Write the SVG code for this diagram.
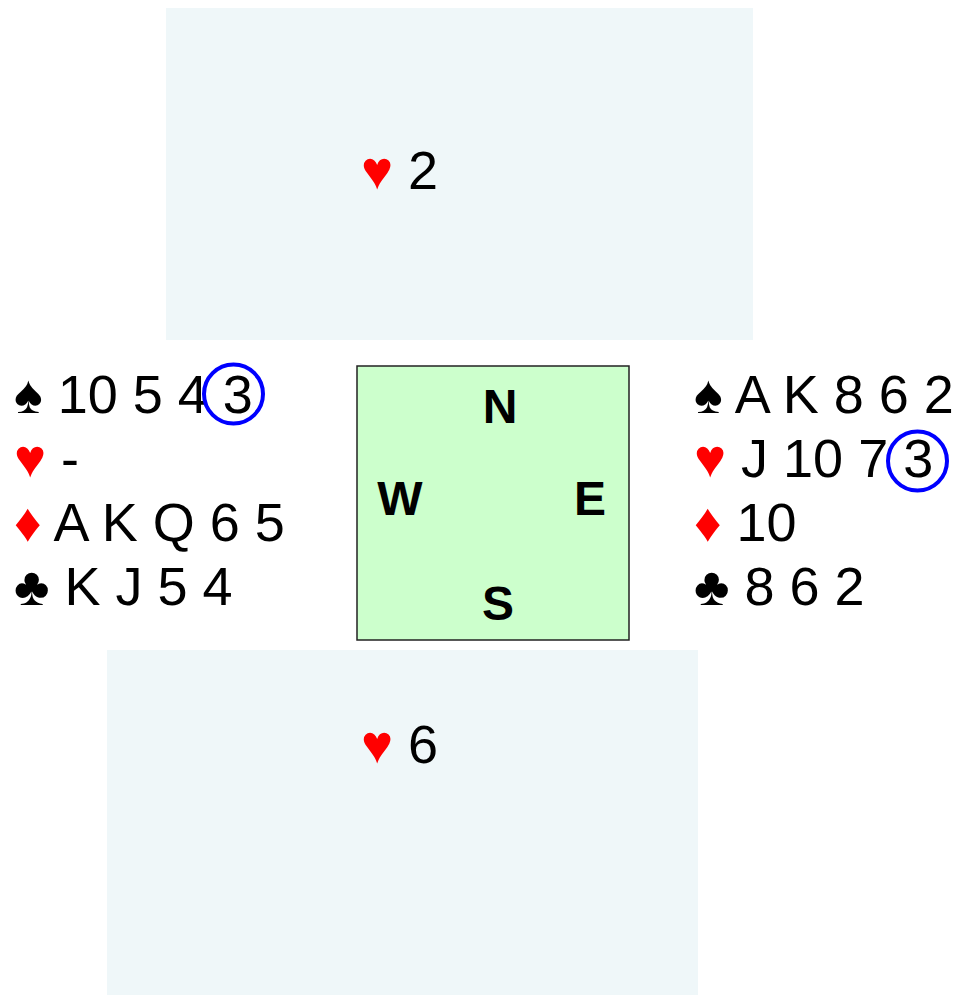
<svg xmlns="http://www.w3.org/2000/svg" width="962" height="995" viewBox="0 0 962 995">
<style>
.hand{fill:#eff7f9}
.t{font-family:"Liberation Sans",Arial,sans-serif;font-size:54px;fill:#000}
.r{fill:#ff0000}
.dir{font-family:"Liberation Sans",Arial,sans-serif;font-size:48px;font-weight:bold;fill:#000;text-anchor:middle}
.ring{fill:none;stroke:#0000ff;stroke-width:4}
</style>
<rect width="962" height="995" fill="#fff"/>
<g id="north">
<rect class="hand" x="166" y="8" width="587" height="332"/>
<text class="t" x="361" y="189"><tspan class="r">♥</tspan> 2</text>
</g>
<g id="south">
<rect class="hand" x="107" y="650" width="591" height="345"/>
<text class="t" x="361" y="763"><tspan class="r">♥</tspan> 6</text>
</g>
<g id="table">
<rect x="357" y="366" width="272" height="274" fill="#ccffcc" stroke="#222" stroke-width="1.5"/>
<text class="dir" x="500" y="423">N</text>
<text class="dir" x="400" y="515">W</text>
<text class="dir" x="590" y="515">E</text>
<text class="dir" x="498" y="620">S</text>
</g>
<g id="west">
<text class="t" x="14" y="413">♠ 10 5 4 3</text>
<text class="t" x="14" y="477"><tspan class="r">♥</tspan> -</text>
<text class="t" x="14" y="541"><tspan class="r">♦</tspan> A K Q 6 5</text>
<text class="t" x="14" y="605">♣ K J 5 4</text>
<circle class="ring" cx="233.5" cy="394" r="29.5"/>
</g>
<g id="east">
<text class="t" x="694" y="413">♠ A K 8 6 2</text>
<text class="t" x="694" y="477"><tspan class="r">♥</tspan> J 10 7 3</text>
<text class="t" x="694" y="541"><tspan class="r">♦</tspan> 10</text>
<text class="t" x="694" y="605">♣ 8 6 2</text>
<circle class="ring" cx="917.5" cy="461" r="29.5"/>
</g>
<g id="connectors"></g>
</svg>
